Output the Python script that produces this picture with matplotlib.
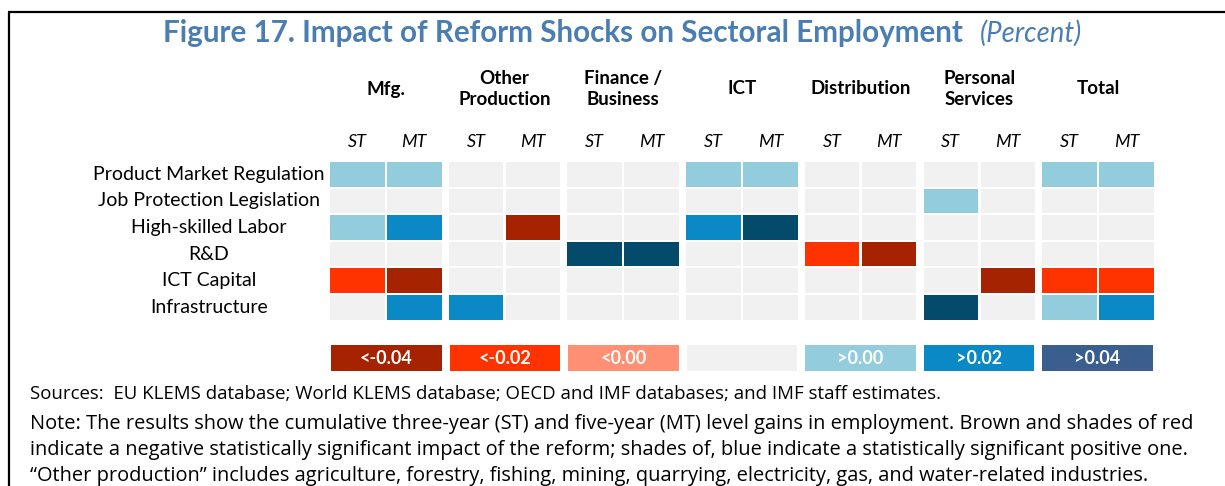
import matplotlib
matplotlib.use("Agg")
import matplotlib.pyplot as plt
from matplotlib.patches import Rectangle

plt.rcParams['font.family'] = ['Lato', 'DejaVu Sans']

# sectors (header lines) and reforms
sectors = ["Mfg.", "Other\nProduction", "Finance /\nBusiness", "ICT",
           "Distribution", "Personal\nServices", "Total"]
horizons = ["ST", "MT"]
reforms = ["Product Market Regulation", "Job Protection Legislation",
           "High-skilled Labor", "R&D", "ICT Capital", "Infrastructure"]

# significance class per cell: -3 <-0.04, -2 <-0.02, -1 <0.00, 0 n.s.,
# 1 >0.00, 2 >0.02, 3 >0.04 ; each row = (ST, MT) pairs per sector
pmr   = [1, 1,  0, 0,  0, 0,  1, 1,  0, 0,  0, 0,  1, 1]
jpl   = [0, 0,  0, 0,  0, 0,  0, 0,  0, 0,  1, 0,  0, 0]
hsl   = [1, 2,  0, -3, 0, 0,  2, 3,  0, 0,  0, 0,  0, 0]
rnd   = [0, 0,  0, 0,  3, 3,  0, 0,  -2, -3, 0, 0, 0, 0]
ictc  = [-2, -3, 0, 0, 0, 0,  0, 0,  0, 0,  0, -3, -2, -2]
infra = [0, 2,  2, 0,  0, 0,  0, 0,  0, 0,  3, 0,  1, 2]
grid = [pmr, jpl, hsl, rnd, ictc, infra]

legend_labels = ["<-0.04", "<-0.02", "<0.00", "", ">0.00", ">0.02", ">0.04"]
legend_codes = [-3, -2, -1, 0, 1, 2, 3]

cell_colors = {-3: "#A52300", -2: "#FF3300", -1: "#FF9073", 0: "#F1F1F1",
               1: "#93CDDD", 2: "#0B88C6", 3: "#034A6B"}
legend_colors = dict(cell_colors)
legend_colors[3] = "#3A5E8E"

title_color = "#4A7DB1"

fig = plt.figure(figsize=(12.25, 4.86), dpi=100)
ax = fig.add_axes([0, 0, 1, 1])
ax.set_xlim(0, 1225)
ax.set_ylim(486, 0)
ax.axis("off")

# frame
ax.plot([8, 1225], [12.5, 12.5], color="black", lw=1.6, solid_capstyle="butt")
ax.plot([8.5, 8.5], [12, 486], color="black", lw=1.6, solid_capstyle="butt")

ax.text(163, 33, "Figure 17. Impact of Reform Shocks on Sectoral Employment",
        ha="left", va="center", fontsize=21.3, fontweight="bold", color=title_color)
ax.text(980, 33, "(Percent)", ha="left", va="center", fontsize=19.8,
        style="italic", color=title_color)

x0, gpitch, cw, igap = 330, 118.7, 54.5, 2.5
y0, rpitch, rh = 162, 26.6, 24.5

for g, name in enumerate(sectors):
    gx = x0 + g * gpitch
    ax.text(gx + cw + igap / 2, 89, name, ha="center", va="center",
            fontsize=13.5, fontweight="bold", linespacing=1.28)
    for h, hz in enumerate(horizons):
        ax.text(gx + h * (cw + igap) + cw / 2, 142, hz, ha="center",
                va="center", fontsize=13, style="italic")

for r, row in enumerate(grid):
    y = y0 + r * rpitch
    ax.text(209, y + rh / 2, reforms[r], ha="center", va="center", fontsize=14)
    for c, code in enumerate(row):
        g, h = divmod(c, 2)
        x = x0 + g * gpitch + h * (cw + igap)
        ax.add_patch(Rectangle((x, y), cw, rh, facecolor=cell_colors[code],
                               edgecolor="none"))

# legend
lw_box, lpitch = 110.5, 118.5
for i, (lab, code) in enumerate(zip(legend_labels, legend_codes)):
    lx = 331 + i * lpitch
    ax.add_patch(Rectangle((lx, 345), lw_box, 26, facecolor=legend_colors[code],
                           edgecolor="none"))
    ax.text(lx + lw_box / 2, 358, lab, ha="center", va="center", fontsize=13,
            fontweight="bold", color="white")

notes = [
    "Sources:  EU KLEMS database; World KLEMS database; OECD and IMF databases; and IMF staff estimates.",
    "Note: The results show the cumulative three-year (ST) and five-year (MT) level gains in employment. Brown and shades of red",
    "indicate a negative statistically significant impact of the reform; shades of, blue indicate a statistically significant positive one.",
    "\u201cOther production\u201d includes agriculture, forestry, fishing, mining, quarrying, electricity, gas, and water-related industries.",
]
note_y = [394, 424, 450, 475.5]
note_size = [13.4, 14.4, 14.4, 14.4]
for line, ypos, fs in zip(notes, note_y, note_size):
    ax.text(30, ypos, line, ha="left", va="center", fontsize=fs,
            family=["Open Sans", "DejaVu Sans"])

fig.savefig("out.png", dpi=100)
